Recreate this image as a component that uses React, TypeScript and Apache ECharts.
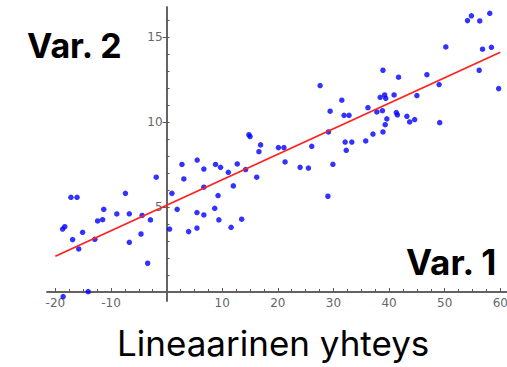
import React, { useEffect, useRef } from "react";
import * as echarts from "echarts";

const varX = [
  -18.6, -14.1, -18.7, -18.3, -17.2, -16.1, -16.9, -15.8, -15.1, -12.9,
  -12.4, -11.5, -11.3, -8.95, -7.4, -6.7, -6.7, -4.6, -4.4, -3.4,
  -2.9, -1.86, 0.54, 0.96, 1.9, 2.76, 3.1, 3.96, 5.5, 5.46,
  5.46, 6.7, 6.7, 6.7, 8.65, 8.8, 9.25, 9.4, 9.7, 11.1,
  11.6, 12.0, 12.7, 13.5, 14.2, 16.2, 14.8, 15.0, 16.9, 16.6,
  20.1, 21.1, 21.3, 24.0, 25.5, 29.9, 29.0, 26.1, 27.6, 29.1,
  29.4, 31.5, 31.9, 32.8, 32.1, 33.3, 32.3, 35.8, 36.2, 37.1,
  37.8, 38.8, 38.9, 38.4, 39.2, 39.4, 40.9, 41.7, 41.3, 41.5,
  39.3, 38.9, 39.6, 43.2, 43.7, 44.6, 45.0, 46.8, 49.0, 49.1,
  50.2, 54.1, 54.8, 56.3, 58.1, 56.2, 56.8, 58.4, 59.7,
];
const varY = [
  -0.27, 0.02, 3.7, 3.84, 5.57, 5.57, 3.08, 2.53, 3.51, 3.1,
  4.18, 4.25, 4.86, 4.59, 5.8, 4.6, 2.92, 3.41, 4.5, 1.69,
  4.24, 6.75, 3.7, 5.8, 4.86, 7.5, 6.65, 3.55, 7.76, 4.67,
  3.76, 7.23, 6.16, 4.53, 4.92, 7.5, 5.67, 4.24, 7.33, 7.04,
  3.8, 6.24, 7.53, 4.28, 7.2, 6.75, 9.25, 9.14, 8.65, 8.25,
  8.49, 8.49, 7.65, 7.33, 7.29, 7.51, 5.63, 8.57, 12.14, 9.41,
  10.63, 11.28, 10.39, 10.39, 8.82, 8.82, 8.33, 8.88, 10.84, 9.29,
  10.59, 10.66, 13.04, 11.45, 11.59, 11.39, 11.59, 12.63, 10.55, 10.41,
  9.84, 9.41, 10.18, 10.33, 10.0, 10.14, 11.55, 12.78, 12.2, 9.96,
  14.41, 15.96, 16.24, 15.94, 16.39, 13.04, 14.28, 14.39, 11.96,
];
const fitX = [-20, 60];
const fitY = [2.1, 14.1];
const xTickLabels = [-20, -10, 10, 20, 30, 40, 50, 60];
const xMajorTicks = [-20, -10, 10, 20, 30, 40, 50, 60];
const xMinorTicks = [
  -20, -17.5, -15, -12.5, -10, -7.5, -5, -2.5, 2.5, 5, 7.5, 10, 12.5, 15, 17.5,
  20, 22.5, 25, 27.5, 30, 32.5, 35, 37.5, 40, 42.5, 45, 47.5, 50, 52.5, 55,
  57.5, 60,
];
const yTickLabels = [5, 10, 15];
const yMinorTicks = [1, 2, 3, 4, 5, 6, 7, 8, 9, 10, 11, 12, 13, 14, 15, 16];

const X_MIN = -21.5;
const X_MAX = 61.2;
const Y_MIN = -0.53;
const Y_MAX = 16.76;

const W = 507;
const H = 367;
const GRID = { left: 47, right: 0, top: 7, bottom: 66 };
const gridW = W - GRID.left - GRID.right;
const gridH = H - GRID.top - GRID.bottom;
// move the axes onto the zero lines of the other axis
const yAxisOffset = -((0 - X_MIN) / (X_MAX - X_MIN)) * gridW;
const xAxisOffset = -((0 - Y_MIN) / (Y_MAX - Y_MIN)) * gridH;

const axisColor = "#5a5a5a";
const labelStyle = {
  fontSize: 12,
  color: "#666",
  fontFamily: "DejaVu Sans",
};

export default function App() {
  const ref = useRef<HTMLDivElement>(null);

  useEffect(() => {
    document.body.style.margin = "0";
    if (!ref.current) return;
    const chart = echarts.init(ref.current, null, { renderer: "svg" });
    const points = varX.map((x, i) => [x, varY[i]]);
    const fit = fitX.map((x, i) => [x, fitY[i]]);
    const lineStyle = { color: axisColor, width: 1.5 };
    chart.setOption({
      animation: false,
      backgroundColor: "#ffffff",
      grid: {
        ...GRID,
        containLabel: false,
        outerBoundsMode: "none",
      },
      xAxis: [
        {
          type: "value",
          min: X_MIN,
          max: X_MAX,
          position: "bottom",
          offset: xAxisOffset,
          axisLine: { show: true, onZero: false, lineStyle },
          axisTick: {
            show: true,
            inside: true,
            length: 4,
            customValues: xMajorTicks,
            lineStyle: { color: axisColor, width: 1 },
          },
          axisLabel: { ...labelStyle, margin: 5, customValues: xTickLabels },
          splitLine: { show: false },
        },
        {
          type: "value",
          min: X_MIN,
          max: X_MAX,
          position: "bottom",
          offset: xAxisOffset,
          axisLine: { show: true, onZero: false, lineStyle },
          axisTick: {
            show: true,
            inside: true,
            length: 3,
            customValues: xMinorTicks,
            lineStyle: { color: axisColor, width: 1 },
          },
          axisLabel: { show: false },
          splitLine: { show: false },
        },
      ],
      yAxis: [
        {
          type: "value",
          min: Y_MIN,
          max: Y_MAX,
          position: "left",
          offset: yAxisOffset,
          axisLine: { show: true, onZero: false, lineStyle },
          axisTick: {
            show: true,
            inside: false,
            length: 4,
            customValues: yTickLabels,
            lineStyle: { color: axisColor, width: 1 },
          },
          axisLabel: { ...labelStyle, margin: 4, customValues: yTickLabels },
          splitLine: { show: false },
        },
        {
          type: "value",
          min: Y_MIN,
          max: Y_MAX,
          position: "left",
          offset: yAxisOffset,
          axisLine: { show: true, onZero: false, lineStyle },
          axisTick: {
            show: true,
            inside: true,
            length: 3,
            customValues: yMinorTicks,
            lineStyle: { color: axisColor, width: 1 },
          },
          axisLabel: { show: false },
          splitLine: { show: false },
        },
      ],
      series: [
        {
          type: "scatter",
          xAxisIndex: 0,
          yAxisIndex: 0,
          data: points,
          symbol: "circle",
          symbolSize: 5.5,
          clip: false,
          itemStyle: { color: "#0000ff" },
          z: 2,
        },
        {
          type: "line",
          xAxisIndex: 0,
          yAxisIndex: 0,
          data: fit,
          showSymbol: false,
          symbol: "none",
          lineStyle: { color: "#ff2020", width: 1.8 },
          z: 3,
        },
      ],
      graphic: [
        {
          type: "text",
          left: 27,
          top: 28,
          style: {
            text: "Var. 2",
            font: "bold 34px Inter",
            fill: "#000",
          },
        },
        {
          type: "text",
          left: 406,
          top: 244,
          style: {
            text: "Var. 1",
            font: "bold 35px Inter",
            fill: "#000",
          },
        },
        {
          type: "text",
          left: 117,
          top: 325,
          style: {
            text: "Lineaarinen yhteys",
            font: "35px Inter",
            fill: "#000",
          },
        },
      ],
    });
    return () => chart.dispose();
  }, []);

  return (
    <div
      ref={ref}
      style={{ position: "fixed", left: 0, top: 0, width: W, height: H, background: "#fff" }}
    />
  );
}
